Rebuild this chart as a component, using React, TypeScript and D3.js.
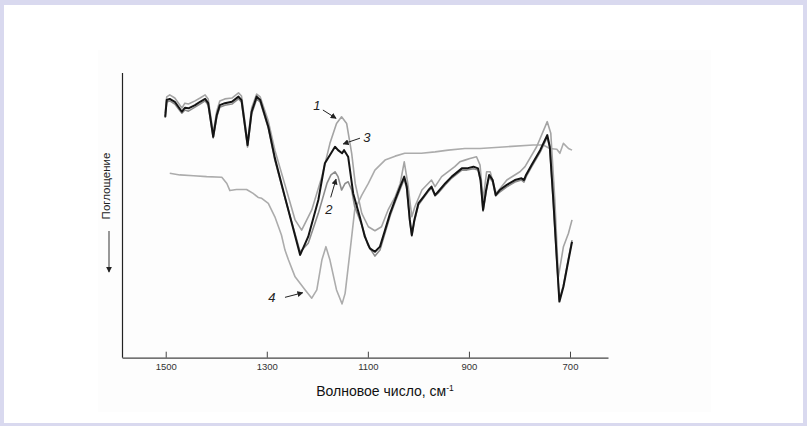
// @ts-nocheck
import { useRef, useEffect } from "react";
import * as d3 from "d3";

const W = 807;
const H = 426;

// wavenumber ticks on the x axis
const xTicks = [1500, 1300, 1100, 900, 700];

// [wavenumber, relative signal 0..100]
const curve1 = [
  [1501, 85.9], [1498, 91.6], [1492, 92.3], [1482, 91.2], [1468, 87.7], [1462, 89.4], [1455, 89.1],
  [1442, 90.2], [1432, 91.2], [1422, 92.3], [1416, 90.9], [1406, 78.9], [1399, 86.6], [1393, 90.2],
  [1383, 90.9], [1369, 91.2], [1356, 93], [1350, 91.9], [1338, 75.8], [1330, 87.7], [1320, 92.6],
  [1313, 91.6], [1297, 83.1], [1284, 72.9], [1264, 60.7], [1244, 48.4], [1231, 44.8], [1211, 51.9],
  [1191, 63.6], [1175, 75.3], [1162, 82.3], [1152, 84.6], [1142, 82.3], [1132, 71.8], [1125, 61.2],
  [1112, 50.7], [1099, 46], [1086, 44.6], [1073, 46], [1060, 51.9], [1046, 56.5], [1036, 61.2],
  [1028, 68.8], [1021, 61.2], [1013, 49.5], [1007, 53], [993, 58.9], [974, 62.4], [967, 60.1],
  [954, 63.6], [928, 67.1], [918, 68.8], [908, 69.4], [898, 70], [885, 70.6], [878, 67.7],
  [872, 55.4], [865, 65.3], [858, 65.3], [846, 57.7], [825, 62.4], [799, 65.3], [789, 67.1],
  [766, 74.1], [745, 82.9], [738, 78.8], [730, 55.4], [723, 28.4], [713, 39], [703, 43.7], [696, 48.4],
];

const curve2 = [
  [1501, 84.2], [1498, 89.8], [1492, 90.2], [1482, 89.1], [1468, 85.9], [1462, 87], [1455, 86.6],
  [1442, 88], [1432, 89.1], [1422, 90.2], [1416, 88.7], [1406, 77.2], [1399, 84.5], [1393, 88],
  [1383, 88.7], [1369, 89.1], [1356, 90.9], [1350, 89.8], [1338, 74], [1330, 85.6], [1320, 90.9],
  [1313, 89.8], [1297, 80.7], [1284, 69.4], [1264, 56.1], [1234, 37.1], [1218, 40.2], [1198, 50.7],
  [1181, 61.2], [1173, 64.2], [1165, 65.3], [1159, 63.6], [1152, 58.9], [1145, 61.2], [1139, 61.8],
  [1132, 58.9], [1126, 53], [1112, 46.6], [1100, 39.6], [1086, 35.7], [1076, 37.8], [1066, 43.8],
  [1056, 49.8], [1046, 54.7], [1036, 59.2], [1028, 62.8], [1023, 59.2], [1017, 47.7], [1013, 42.7],
  [1008, 47.7], [1000, 53.6], [990, 56.1], [980, 58.5], [974, 59.6], [967, 56.8], [961, 57.8],
  [947, 60.7], [934, 63.1], [914, 65.9], [904, 65.9], [891, 66.4], [882, 65.9], [877, 62.1],
  [872, 51.5], [866, 58.2], [860, 63.5], [853, 61.7], [847, 56.8], [839, 58.2], [825, 60],
  [809, 61.7], [796, 62.4], [791, 61.7], [787, 63.5], [776, 67], [759, 72.2], [745, 77.5],
  [740, 73.6], [733, 54.3], [726, 33.6], [721, 20.3], [713, 25.5], [703, 35], [696, 41.3],
];

const curve3 = [
  [1501, 84.6], [1498, 90.5], [1492, 90.9], [1482, 89.9], [1468, 86.4], [1462, 87.8], [1455, 87.6],
  [1442, 88.7], [1432, 89.9], [1422, 90.9], [1416, 89.4], [1406, 77.6], [1399, 85.2], [1393, 88.7],
  [1383, 89.4], [1369, 89.9], [1356, 91.7], [1350, 90.5], [1338, 74.7], [1330, 86.4], [1320, 91.7],
  [1313, 90.5], [1297, 81.1], [1284, 70.1], [1264, 56.4], [1234, 36.1], [1218, 42.5], [1198, 55.4],
  [1185, 68.3], [1175, 71.2], [1165, 74.1], [1159, 72.9], [1151, 71.8], [1147, 72.9], [1139, 70.6],
  [1129, 57.7], [1116, 49.5], [1106, 42.5], [1096, 38.4], [1086, 37.2], [1076, 39], [1066, 44.8],
  [1056, 50.7], [1046, 55.4], [1036, 60.1], [1028, 63.6], [1023, 60.1], [1017, 48.4], [1013, 43.1],
  [1008, 48.4], [1000, 54.2], [990, 56.5], [980, 58.9], [974, 60.1], [967, 57.1], [961, 58.3],
  [947, 61.2], [934, 63.6], [914, 66.5], [904, 66.5], [891, 67.1], [882, 66.5], [877, 62.4],
  [872, 51.9], [866, 58.9], [860, 64.2], [853, 62.4], [847, 57.1], [839, 58.9], [825, 60.7],
  [809, 62.4], [796, 63], [791, 62.4], [787, 64.2], [776, 67.7], [759, 72.9], [745, 78.2],
  [740, 74.1], [733, 55.4], [726, 34.3], [721, 19.7], [713, 24.9], [703, 34.3], [696, 40.7],
];

const curve4 = [
  [1492, 64.8], [1472, 64.2], [1445, 63.9], [1419, 63.6], [1389, 63.4], [1379, 61.2], [1373, 58.7],
  [1360, 59.1], [1340, 59.1], [1327, 57.7], [1317, 56.3], [1310, 56], [1297, 54.2], [1284, 49.5],
  [1271, 43.1], [1264, 37.8], [1257, 34.3], [1244, 28.4], [1224, 23.8], [1211, 20.9], [1201, 23.8],
  [1191, 34.3], [1183, 39], [1175, 34.3], [1162, 23.8], [1151, 18.9], [1145, 22.6], [1135, 37.8],
  [1126, 51.9], [1112, 57.1], [1099, 61.2], [1086, 65.9], [1066, 69.4], [1046, 70.8], [1027, 71.8],
  [994, 71.8], [967, 72.3], [941, 72.9], [908, 73.5], [878, 73.5], [825, 74.1], [773, 74.7],
  [753, 74.7], [740, 73.5], [726, 73.2], [720, 71.8], [713, 75.3], [703, 73.5], [696, 72.9],
];

// curve labels: text anchor and arrow (from -> to), in data units
const labelNames = ["1", "2", "3", "4"];
const labelAt = [[1201, 88.7], [1177, 51.9], [1102, 77.4], [1290, 21.3]];
const arrowFrom = [[1189, 87], [1173.5, 56.3], [1115.6, 77.1], [1264, 21.2]];
const arrowTo = [[1163, 84.1], [1163, 62.7], [1148.6, 75.1], [1229, 22.8]];

const App = () => {
  const svgRef = useRef();

  useEffect(() => {
    document.body.style.margin = "0";
    const svg = d3.select(svgRef.current);
    svg.selectAll("*").remove();

    // frame
    svg.append("rect").attr("width", W).attr("height", H).attr("fill", "#d9d9ef");
    svg.append("rect").attr("x", 4).attr("y", 5).attr("width", 799).attr("height", 418).attr("fill", "#fff");
    svg.append("rect").attr("x", 98).attr("y", 50).attr("width", 613).attr("height", 362).attr("fill", "#fdfdfd");

    const x = d3.scaleLinear().domain([1586.5, 624.8]).range([122, 608]);
    const y = d3.scaleLinear().domain([0, 100]).range([357.7, 73]);

    // y axis (no ticks)
    svg
      .append("line")
      .attr("x1", 122.5)
      .attr("x2", 122.5)
      .attr("y1", y(100))
      .attr("y2", y(0))
      .attr("stroke", "#222")
      .attr("stroke-width", 1.2);

    const xAxis = svg
      .append("g")
      .attr("transform", `translate(0,${y(0)})`)
      .call(
        d3
          .axisBottom(x)
          .tickValues(xTicks)
          .tickFormat(d3.format("d"))
          .tickSizeInner(-6)
          .tickSizeOuter(0)
          .tickPadding(6)
      );
    xAxis.select(".domain").attr("stroke", "#444").attr("stroke-width", 1.2);
    xAxis.selectAll(".tick line").attr("stroke", "#444");
    xAxis
      .selectAll(".tick text")
      .attr("fill", "#333")
      .attr("font-size", "9.5px")
      .attr("font-family", "Liberation Sans, Arial, sans-serif");

    // axis titles
    const title = svg
      .append("text")
      .attr("x", 385)
      .attr("y", 396)
      .attr("text-anchor", "middle")
      .attr("font-family", "Liberation Sans, Arial, sans-serif")
      .attr("font-size", "14px")
      .attr("fill", "#111");
    title.append("tspan").text("Волновое число, см");
    title.append("tspan").attr("font-size", "8.5px").attr("dy", -5).text("-1");

    svg
      .append("text")
      .attr("transform", "translate(110,186) rotate(-90)")
      .attr("text-anchor", "middle")
      .attr("font-family", "Liberation Sans, Arial, sans-serif")
      .attr("font-size", "11.5px")
      .attr("fill", "#222")
      .text("Поглощение");

    const defs = svg.append("defs");
    defs
      .append("marker")
      .attr("id", "ah")
      .attr("viewBox", "0 0 8 8")
      .attr("refX", 7)
      .attr("refY", 4)
      .attr("markerWidth", 6)
      .attr("markerHeight", 6)
      .attr("markerUnits", "userSpaceOnUse")
      .attr("orient", "auto")
      .append("path")
      .attr("d", "M0,0L8,4L0,8Z")
      .attr("fill", "#222");

    svg
      .append("line")
      .attr("x1", 109)
      .attr("x2", 109)
      .attr("y1", 231)
      .attr("y2", 272)
      .attr("stroke", "#555")
      .attr("stroke-width", 1.2)
      .attr("marker-end", "url(#ah)");

    // spectra
    const line = d3
      .line()
      .x((d) => x(d[0]))
      .y((d) => y(d[1]));

    const series = [
      { data: curve4, color: "#acacac", width: 1.6 },
      { data: curve1, color: "#a4a4a4", width: 1.6 },
      { data: curve2, color: "#8c8c8c", width: 1.6 },
      { data: curve3, color: "#141414", width: 2 },
    ];

    svg
      .append("g")
      .selectAll("path")
      .data(series)
      .enter()
      .append("path")
      .attr("d", (s) => line(s.data))
      .attr("fill", "none")
      .attr("stroke", (s) => s.color)
      .attr("stroke-width", (s) => s.width)
      .attr("stroke-linejoin", "round");

    // curve numbers with arrows
    const ann = svg.append("g");
    labelNames.forEach((name, i) => {
      ann
        .append("text")
        .attr("x", x(labelAt[i][0]))
        .attr("y", y(labelAt[i][1]))
        .attr("dy", "0.35em")
        .attr("text-anchor", "middle")
        .attr("font-family", "Liberation Sans, Arial, sans-serif")
        .attr("font-style", "italic")
        .attr("font-size", "13px")
        .attr("fill", "#222")
        .text(name);
      ann
        .append("line")
        .attr("x1", x(arrowFrom[i][0]))
        .attr("y1", y(arrowFrom[i][1]))
        .attr("x2", x(arrowTo[i][0]))
        .attr("y2", y(arrowTo[i][1]))
        .attr("stroke", "#222")
        .attr("stroke-width", 1)
        .attr("marker-end", "url(#ah)");
    });
  }, []);

  return <svg ref={svgRef} width={W} height={H} style={{ display: "block" }}></svg>;
};

export default App;
